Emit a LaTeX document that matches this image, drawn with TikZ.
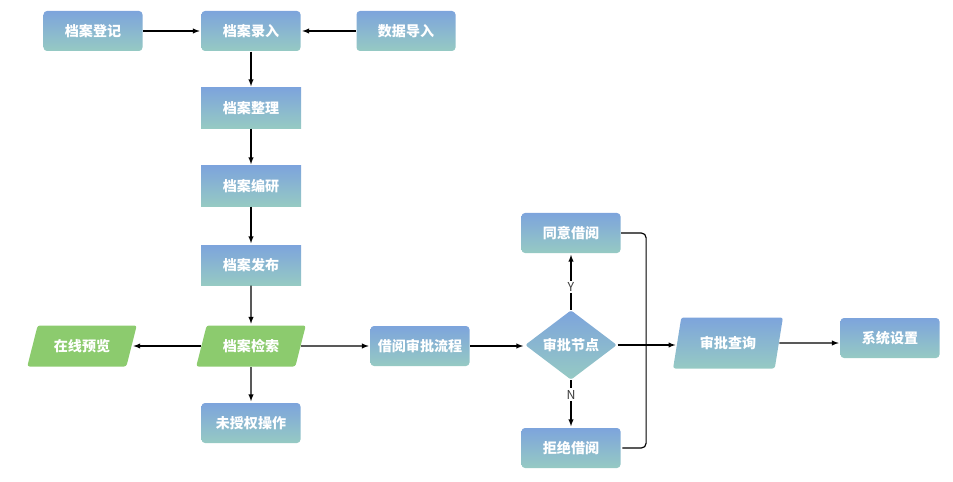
\documentclass[tikz,border=0pt]{standalone}
\usepackage{fontspec}
\newfontfamily\cjk{Noto Sans CJK SC}
\usepackage{tikz}
\usetikzlibrary{arrows,shapes,positioning}

\definecolor{boxtop}{RGB}{125,164,220}
\definecolor{boxbot}{RGB}{150,202,195}
\definecolor{leaf}{RGB}{140,203,110}
\definecolor{yn}{RGB}{60,60,60}

\tikzset{
  base/.style={text=white, font=\cjk\bfseries\fontsize{12}{14}\selectfont, inner sep=0pt},
  box/.style={base, rectangle, rounded corners=3pt, top color=boxtop, bottom color=boxbot,
    minimum width=2.97cm, minimum height=1.2cm},
  sqbox/.style={box, rounded corners=0pt, minimum width=3cm},
  para/.style={base, trapezium, trapezium stretches=true, trapezium left angle=64,
    trapezium right angle=116, rounded corners=2pt, fill=leaf,
    minimum width=3.3cm, minimum height=1.23cm},
  bpara/.style={para, fill=none, top color=boxtop, bottom color=boxbot,
    trapezium left angle=70, trapezium right angle=110, minimum height=1.53cm},
  check/.style={base, diamond, rounded corners=2pt, top color=boxtop, bottom color=boxbot,
    minimum width=2.76cm, minimum height=2cm},
  lab/.style={fill=white, text=yn, font=\cjk\fontsize{10.5}{12}\selectfont, inner sep=1.5pt}
}

\begin{document}
\begin{tikzpicture}[x=0.03cm, y=-0.03cm, shorten >=1pt, >=latex, line width=1pt]
  \useasboundingbox (0,0) rectangle (953,482);

  \node[box] (dj) at (93,31) {档案登记};
  \node[box] (lr) at (251,31) {档案录入};
  \node[box] (dr) at (406,31) {数据导入};
  \node[sqbox] (zl) at (251,108) {档案整理};
  \node[sqbox] (by) at (251,186) {档案编研};
  \node[sqbox] (fb) at (251,265) {档案发布};
  \node[para] (js) at (251,346) {档案检索};
  \node[para] (yl) at (82,346) {在线预览};
  \node[box] (wsq) at (251,423) {未授权操作};
  \node[box] (spl) at (420,346) {借阅审批流程};
  \node[check] (jd) at (571,345) {审批节点};
  \node[box] (ty) at (571,233) {同意借阅};
  \node[box] (jj) at (571,448) {拒绝借阅};
  \node[bpara] (cx) at (728,343) {审批查询};
  \node[box] (sz) at (890,338) {系统设置};

  \path[->]
    (dj) edge (lr)
    (dr) edge (lr)
    (lr) edge (zl)
    (zl) edge (by)
    (by) edge (fb)
    (fb) edge (js)
    (js) edge (yl)
         edge (wsq)
         edge (spl)
    (spl) edge (jd.west |- spl.east)
    (jd) edge node[lab, pos=0.4] {Y} (ty)
         edge node[lab, pos=0.3] {N} (jj)
         edge (cx.west |- jd.east)
    (cx) edge (sz.west |- cx.east);

  \draw[rounded corners=4pt] (ty.east) -- ++(25,0) |- (jj.east);
\end{tikzpicture}
\end{document}
